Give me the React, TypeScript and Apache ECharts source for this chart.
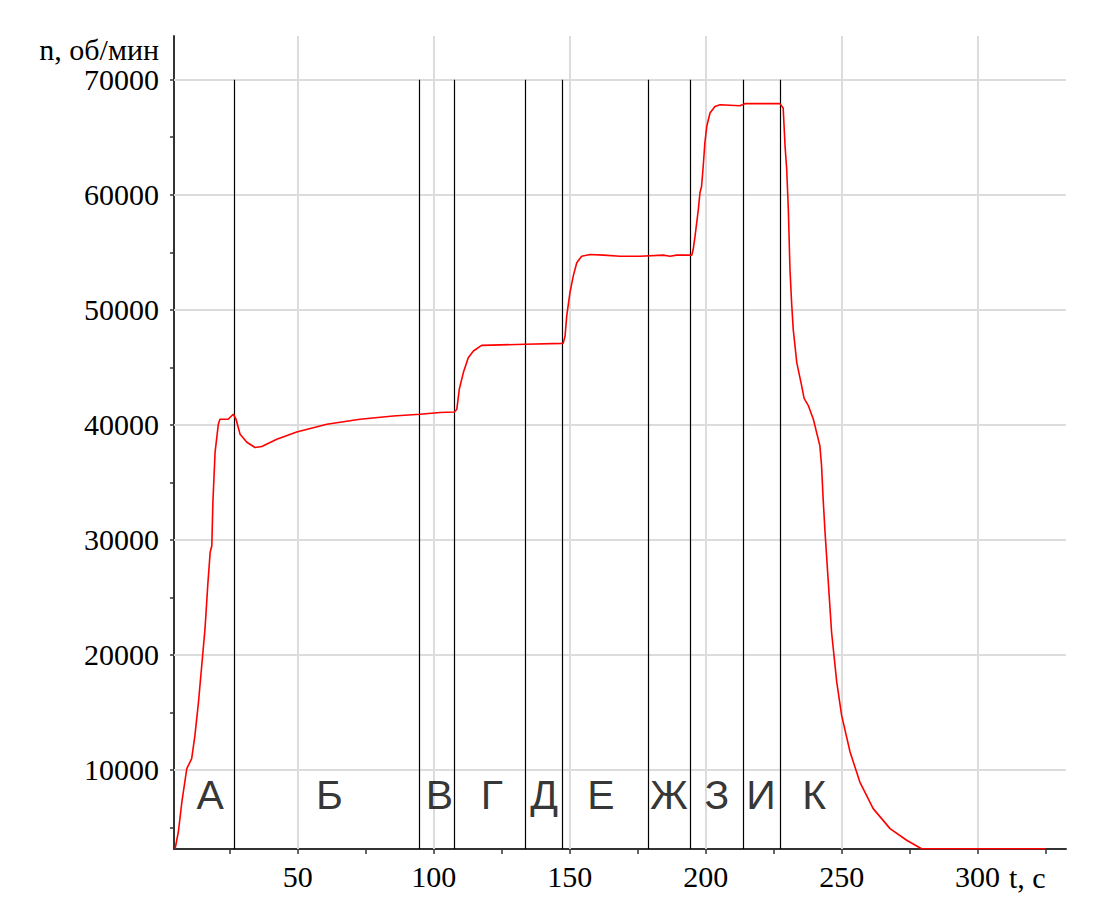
import React, { useEffect, useRef } from "react";
import * as echarts from "echarts";

// time, s
const timeS = [
  4.9, 6.1, 7.4, 9.2, 11.0, 12.2, 13.5, 14.7, 15.9, 16.9, 17.8, 18.4, 18.8, 19.6, 20.8, 21.4,
  24.4, 26.3, 27.3, 28.8, 31.3, 34.3, 36.8, 42.3, 49.6, 60.7, 72.9, 85.1, 95.0, 102.3, 107.6,
  108.5, 109.4, 110.9, 112.7, 114.6, 117.6, 133.6, 147.6, 148.3, 148.9, 150.1, 151.3, 152.6,
  154.4, 157.5, 162.4, 168.5, 175.8, 184.4, 186.9, 189.3, 194.9, 195.4, 196.1, 197.3, 197.9,
  198.5, 199.1, 199.7, 200.4, 201.6, 203.4, 205.3, 212.6, 214.4, 227.3, 228.5, 229.2, 229.8,
  230.4, 231.0, 231.6, 232.2, 233.5, 235.3, 236.2, 237.7, 239.6, 242.0, 242.6, 243.2, 243.9,
  245.1, 246.3, 248.2, 250.0, 253.1, 256.7, 261.6, 267.8, 273.9, 279.4, 300.0, 325.0,
];
// rotation speed, rpm
const speedRpm = [
  3150, 4610, 7220, 10110, 10980, 13000, 15900, 19080, 22260, 26020, 28920, 29490, 33260, 37600, 40060, 40490,
  40490, 40920, 40490, 39180, 38490, 38030, 38120, 38750, 39380, 40050, 40490, 40770, 40920, 41070, 41120,
  41360, 43090, 44540, 45840, 46420, 46910, 47000, 47085, 47720, 49450, 51490, 52930, 54090,
  54660, 54810, 54750, 54660, 54660, 54750, 54660, 54750, 54750, 55240, 56400, 58720, 60170,
  60740, 62480, 64500, 65950, 67110, 67680, 67830, 67740, 67920, 67920, 67540, 64210, 62190,
  58720, 53500, 50620, 48300, 45410, 43380, 42300, 41700, 40490, 38170, 36500, 33540, 30650,
  26310, 21970, 17630, 14740, 11560, 8950, 6640, 4900, 3890, 3150, 3150, 3150,
];

const phaseBounds = [26.7, 94.7, 107.6, 133.8, 147.3, 178.9, 194.5, 213.8, 227.4];
const phaseNames = ["А", "Б", "В", "Г", "Д", "Е", "Ж", "З", "И", "К"];
const phaseLabelT = [17.8, 61.7, 102.1, 121.4, 140.6, 161.5, 186.5, 204.1, 220.3, 239.9];
const phaseLabelRpm = 7850;
const phaseTopRpm = 70000;

const xTicks = [25, 50, 75, 100, 125, 150, 175, 200, 225, 250, 275, 300, 325];
const xLabels = [50, 100, 150, 200, 250, 300];
const xGrid = [50, 100, 150, 200, 250, 300];
const yTicks = [5000, 10000, 15000, 20000, 25000, 30000, 35000, 40000, 45000, 50000, 55000, 60000, 65000, 70000];
const yLabels = [10000, 20000, 30000, 40000, 50000, 60000, 70000];
const yGrid = [10000, 20000, 30000, 40000, 50000, 60000, 70000];

const X_MIN = 4.5;
const X_MAX = 332.5;
const Y_MIN = 3130;
const Y_MAX = 73800;

const yTitle = "n, об/мин";
const xTitle = "t, c";

const SERIF = '"Liberation Serif", "Times New Roman", serif';
const SANS = '"Liberation Sans", Arial, sans-serif';

export default function App() {
  const ref = useRef<HTMLDivElement>(null);

  useEffect(() => {
    if (!ref.current) return;
    const chart = echarts.init(ref.current, undefined, { renderer: "svg" });
    const axisColor = "#333";
    chart.setOption({
      animation: false,
      backgroundColor: "#fff",
      grid: { left: 174, top: 36, width: 892, height: 813 },
      xAxis: {
        type: "value",
        min: X_MIN,
        max: X_MAX,
        axisLine: { show: true, onZero: false, lineStyle: { color: axisColor, width: 2 } },
        axisTick: { show: true, customValues: xTicks, length: 5, lineStyle: { color: axisColor, width: 1.5 } },
        axisLabel: {
          customValues: xLabels,
          formatter: (v: number) => String(v),
          fontFamily: SERIF,
          fontSize: 30,
          color: "#000",
          margin: 12,
        },
        splitLine: { show: false },
      },
      yAxis: {
        type: "value",
        min: Y_MIN,
        max: Y_MAX,
        axisLine: { show: true, onZero: false, lineStyle: { color: axisColor, width: 2 } },
        axisTick: { show: true, customValues: yTicks, length: 4, lineStyle: { color: axisColor, width: 1.5 } },
        axisLabel: {
          customValues: yLabels,
          formatter: (v: number) => String(v),
          fontFamily: SERIF,
          fontSize: 30,
          color: "#000",
          margin: 15,
        },
        splitLine: { show: false },
      },
      graphic: [
        {
          type: "text",
          x: 159,
          y: 49,
          style: { text: yTitle, fontFamily: SERIF, fontSize: 30, fill: "#000", align: "right", verticalAlign: "middle" },
        },
        {
          type: "text",
          x: 1009,
          y: 877,
          style: { text: xTitle, fontFamily: SERIF, fontSize: 30, fill: "#000", align: "left", verticalAlign: "middle" },
        },
      ],
      series: [
        {
          type: "line",
          data: [[X_MIN, Y_MIN]],
          showSymbol: false,
          lineStyle: { opacity: 0 },
          silent: true,
          z: 1,
          markLine: {
            silent: true,
            z: 1,
            symbol: ["none", "none"],
            label: { show: false },
            lineStyle: { color: "#dcdcdc", width: 2, type: "solid" },
            emphasis: { disabled: true },
            data: [...xGrid.map((v) => ({ xAxis: v })), ...yGrid.map((v) => ({ yAxis: v }))],
          },
        },
        {
          type: "line",
          data: [[X_MIN, Y_MIN]],
          showSymbol: false,
          lineStyle: { opacity: 0 },
          silent: true,
          z: 3,
          markLine: {
            silent: true,
            z: 3,
            symbol: ["none", "none"],
            label: { show: false },
            lineStyle: { color: "#000", width: 1.2, type: "solid" },
            emphasis: { disabled: true },
            data: phaseBounds.map((t) => [{ coord: [t, Y_MIN] }, { coord: [t, phaseTopRpm] }]),
          },
        },
        {
          type: "line",
          data: timeS.map((t, i) => [t, speedRpm[i]]),
          showSymbol: false,
          smooth: false,
          z: 5,
          lineStyle: { color: "#ff0000", width: 1.6 },
          itemStyle: { color: "#ff0000" },
        },
        {
          type: "scatter",
          z: 6,
          symbol: "circle",
          symbolSize: 1,
          itemStyle: { color: "rgba(0,0,0,0)" },
          silent: true,
          data: phaseNames.map((n, i) => ({ name: n, value: [phaseLabelT[i], phaseLabelRpm] })),
          label: {
            show: true,
            position: "inside",
            formatter: "{b}",
            fontFamily: SANS,
            fontSize: 41,
            color: "#000",
          },
        },
      ],
    });
    return () => chart.dispose();
  }, []);

  return (
    <div
      ref={ref}
      style={{ position: "fixed", left: 0, top: 0, width: 1094, height: 908, background: "#fff" }}
    />
  );
}
